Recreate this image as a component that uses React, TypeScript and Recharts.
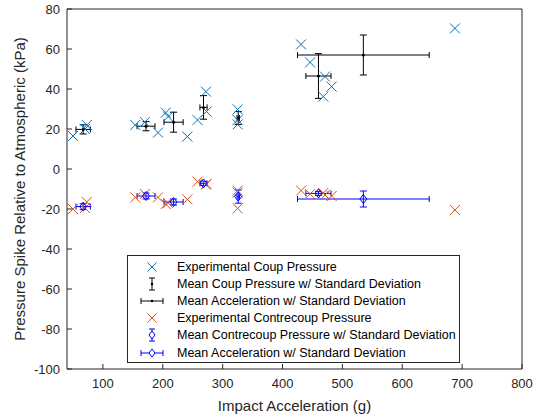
import React from 'react';
import { ScatterChart, Scatter, XAxis, YAxis, ErrorBar } from 'recharts';

// experimental impacts (g) and pressure spikes (kPa)
const impactG = [50, 70, 73, 154, 170, 192, 205, 209, 241, 258, 272, 273, 325, 325, 325, 431, 446, 468, 471, 482, 688];
const coupKPa = [16.5, 20, 22, 22, 23.5, 18.2, 28.2, 26.2, 16.2, 24.5, 38.7, 28.7, 29.8, 24.5, 22.3, 62.3, 53.3, 36.2, 46.2, 41.2, 70.3];
const contreKPa = [-20, -19.5, -16.5, -14.2, -12.5, -14.2, -17.5, -17, -15.2, -6.3, -7.8, -7.5, -10.8, -11.8, -19.7, -10.8, -12.5, -12, -13, -13.5, -20.5];

// grouped means and standard deviations
const meanAccel = [67, 172, 218, 268, 326, 460, 535];
const accelSD = [12, 15, 16, 6, 2, 21, 110];
const meanCoup = [19.8, 21.4, 23.4, 30.8, 25.5, 46.5, 57];
const coupSD = [2.3, 2.3, 5, 5.9, 3.2, 11.2, 10];
const meanContre = [-18.8, -13.5, -16.5, -7.2, -13.8, -12.2, -15];
const contreSD = [1.5, 1.5, 1.5, 1, 3.3, 1, 4];

const xTicks = [100, 200, 300, 400, 500, 600, 700, 800];
const yTicks = [-100, -80, -60, -40, -20, 0, 20, 40, 60, 80];

const BLUE = '#0072BD';
const ORANGE = '#D95319';
const MEAN_BLUE = '#0000FF';
const AXIS = '#262626';
const FONT = '"Liberation Sans", Arial, Helvetica, sans-serif';

const coupPts = impactG.map((x, i) => ({ x, y: coupKPa[i] }));
const contrePts = impactG.map((x, i) => ({ x, y: contreKPa[i] }));
const coupMeans = meanAccel.map((x, i) => ({ x, y: meanCoup[i], ex: accelSD[i], ey: coupSD[i] }));
const contreMeans = meanAccel.map((x, i) => ({ x, y: meanContre[i], ex: accelSD[i], ey: contreSD[i] }));

const cross = (color: string) => (p: any) => {
  const s = 5;
  return (
    <g stroke={color} strokeWidth={1}>
      <line x1={p.cx - s} y1={p.cy - s} x2={p.cx + s} y2={p.cy + s} />
      <line x1={p.cx - s} y1={p.cy + s} x2={p.cx + s} y2={p.cy - s} />
    </g>
  );
};

const dot = (p: any) => <circle cx={p.cx} cy={p.cy} r={1.5} fill="#000" />;

const diamond = (p: any) => (
  <polygon
    points={`${p.cx},${p.cy - 4.5} ${p.cx + 3.5},${p.cy} ${p.cx},${p.cy + 4.5} ${p.cx - 3.5},${p.cy}`}
    fill="none"
    stroke={MEAN_BLUE}
    strokeWidth={1}
  />
);

const legendRows = [
  { label: 'Experimental Coup Pressure', icon: 'crossBlue' },
  { label: 'Mean Coup Pressure w/ Standard Deviation', icon: 'vBlack' },
  { label: 'Mean Acceleration w/ Standard Deviation', icon: 'hBlack' },
  { label: 'Experimental Contrecoup Pressure', icon: 'crossOrange' },
  { label: 'Mean Contrecoup Pressure w/ Standard Deviation', icon: 'vBlue' },
  { label: 'Mean Acceleration w/ Standard Deviation', icon: 'hBlue' },
];

function LegendIcon({ kind }: { kind: string }) {
  const c = kind.endsWith('Black') ? '#000' : MEAN_BLUE;
  let body: React.ReactNode = null;
  if (kind === 'crossBlue' || kind === 'crossOrange') {
    const col = kind === 'crossBlue' ? BLUE : ORANGE;
    body = (
      <g stroke={col}>
        <line x1={8.5} y1={2.5} x2={17.5} y2={11.5} />
        <line x1={8.5} y1={11.5} x2={17.5} y2={2.5} />
      </g>
    );
  } else if (kind.startsWith('v')) {
    body = (
      <g stroke={c}>
        <line x1={13} y1={1} x2={13} y2={13} />
        <line x1={10} y1={1} x2={16} y2={1} />
        <line x1={10} y1={13} x2={16} y2={13} />
      </g>
    );
  } else {
    body = (
      <g stroke={c}>
        <line x1={2} y1={7} x2={24} y2={7} />
        <line x1={2} y1={4} x2={2} y2={10} />
        <line x1={24} y1={4} x2={24} y2={10} />
      </g>
    );
  }
  const marker = kind.endsWith('Black') ? (
    <circle cx={13} cy={7} r={1.3} fill="#000" />
  ) : kind.endsWith('Blue') && kind !== 'crossBlue' ? (
    <polygon points="13,3 16,7 13,11 10,7" fill="#fff" stroke={MEAN_BLUE} />
  ) : null;
  return (
    <svg width={26} height={14} style={{ display: 'block' }}>
      {body}
      {marker}
    </svg>
  );
}

export default function App() {
  return (
    <div style={{ position: 'absolute', left: 0, top: 0, width: 538, height: 416, background: '#fff' }}>
      <ScatterChart width={538} height={416} margin={{ top: 8, right: 15, bottom: 0, left: 0 }}>
        <XAxis
          type="number"
          dataKey="x"
          domain={[40, 800]}
          ticks={xTicks}
          allowDataOverflow
          height={47}
          tickSize={-5}
          tickMargin={15}
          stroke={AXIS}
          tick={{ fontSize: 13, fontFamily: FONT, fill: AXIS }}
          label={{ value: 'Impact Acceleration (g)', position: 'insideBottom', offset: 5, fill: AXIS, fontSize: 15, fontFamily: FONT }}
        />
        <YAxis
          type="number"
          dataKey="y"
          domain={[-100, 80]}
          ticks={yTicks}
          allowDataOverflow
          width={67}
          tickSize={-5}
          tickMargin={12}
          stroke={AXIS}
          tick={{ fontSize: 13, fontFamily: FONT, fill: AXIS }}
          label={{
            value: 'Pressure Spike Relative to Atmospheric (kPa)',
            angle: -90,
            position: 'insideLeft',
            offset: 20,
            fill: AXIS,
            fontSize: 15,
            fontFamily: FONT,
            style: { textAnchor: 'middle' },
          }}
        />
        <XAxis xAxisId="top" orientation="top" type="number" domain={[40, 800]} ticks={xTicks} allowDataOverflow height={1} tickSize={-5} tick={false} stroke={AXIS} />
        <YAxis yAxisId="right" orientation="right" type="number" domain={[-100, 80]} ticks={yTicks} allowDataOverflow width={1} tickSize={-5} tick={false} stroke={AXIS} />

        <Scatter data={coupPts} shape={cross(BLUE)} isAnimationActive={false} />
        <Scatter data={coupMeans} shape={dot} isAnimationActive={false}>
          <ErrorBar dataKey="ey" direction="y" width={3.5} stroke="#000" strokeWidth={1} />
          <ErrorBar dataKey="ex" direction="x" width={3} stroke="#000" strokeWidth={1} />
        </Scatter>
        <Scatter data={contrePts} shape={cross(ORANGE)} isAnimationActive={false} />
        <Scatter data={contreMeans} shape={diamond} isAnimationActive={false}>
          <ErrorBar dataKey="ey" direction="y" width={3.5} stroke={MEAN_BLUE} strokeWidth={1} />
          <ErrorBar dataKey="ex" direction="x" width={3} stroke={MEAN_BLUE} strokeWidth={1} />
        </Scatter>
      </ScatterChart>

      <div
        style={{
          position: 'absolute',
          left: 127,
          top: 255,
          width: 333,
          height: 108,
          boxSizing: 'border-box',
          border: `1px solid ${AXIS}`,
          background: '#fff',
          paddingTop: 2,
          fontFamily: FONT,
          fontSize: 12.5,
          color: '#000',
        }}
      >
        {legendRows.map((r, i) => (
          <div key={i} style={{ display: 'flex', alignItems: 'center', height: 17.2 }}>
            <div style={{ marginLeft: 11 }}>
              <LegendIcon kind={r.icon} />
            </div>
            <span style={{ marginLeft: 12, whiteSpace: 'nowrap' }}>{r.label}</span>
          </div>
        ))}
      </div>
    </div>
  );
}
